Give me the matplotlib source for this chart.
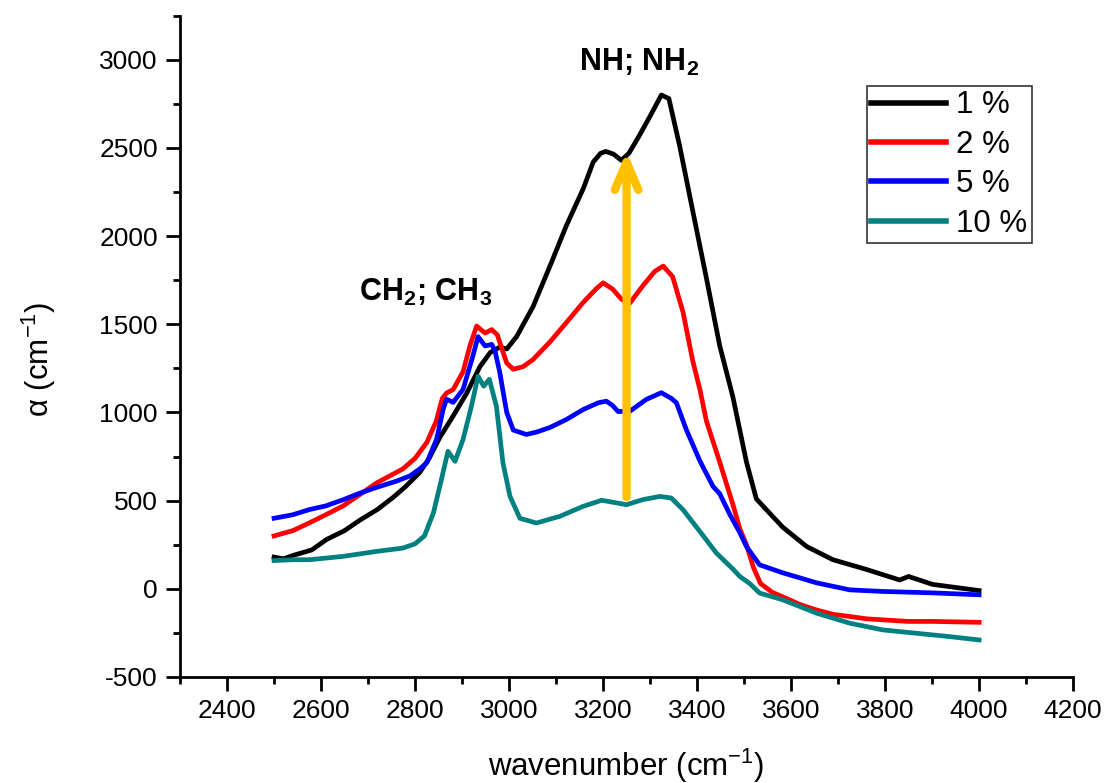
import matplotlib
matplotlib.use("Agg")
import matplotlib.pyplot as plt

plt.rcParams['font.family'] = ['Liberation Sans', 'DejaVu Sans']
plt.rcParams['mathtext.default'] = 'regular'
plt.rcParams['axes.unicode_minus'] = False

# ---- data ----
black_x = [2500, 2520, 2541, 2580, 2612, 2650, 2683, 2720, 2754, 2780, 2810, 2830, 2853, 2881, 2910,
           2938, 2960, 2980, 2995, 3016, 3051, 3087, 3122, 3158, 3179, 3195, 3206, 3222, 3239, 3255,
           3275, 3300, 3324, 3340, 3363, 3391, 3420, 3448, 3476, 3505, 3526, 3540, 3582, 3633, 3689,
           3760, 3831, 3850, 3901, 3986, 4000]
black_y = [180, 170, 190, 220, 280, 330, 390, 450, 520, 580, 660, 740, 860, 980, 1110,
           1260, 1340, 1370, 1360, 1430, 1600, 1830, 2060, 2270, 2420, 2470, 2480, 2465, 2430, 2470,
           2560, 2680, 2800, 2780, 2510, 2140, 1760, 1380, 1090, 720, 510, 470, 350, 240, 165,
           110, 50, 70, 25, -5, -10]

red_x = [2500, 2540, 2576, 2610, 2647, 2680, 2718, 2774, 2800, 2825, 2845, 2858, 2867, 2881, 2902,
         2917, 2931, 2949, 2963, 2975, 2985, 2995, 3009, 3030, 3051, 3087, 3122, 3158, 3185, 3200,
         3220, 3240, 3257, 3285, 3310, 3328, 3348, 3370, 3391, 3406, 3420, 3448, 3476, 3491, 3505,
         3520, 3535, 3560, 3582, 3620, 3654, 3690, 3725, 3760, 3795, 3850, 3901, 4000]
red_y = [300, 330, 375, 420, 470, 530, 600, 680, 740, 830, 950, 1080, 1110, 1130, 1230,
         1380, 1490, 1450, 1470, 1440, 1360, 1280, 1245, 1260, 1300, 1400, 1510, 1625, 1700, 1735,
         1700, 1640, 1620, 1720, 1800, 1830, 1770, 1570, 1290, 1130, 950, 720, 480, 340, 250,
         120, 30, -20, -45, -90, -120, -145, -157, -170, -176, -185, -185, -190]

blue_x = [2500, 2540, 2576, 2610, 2647, 2680, 2718, 2760, 2789, 2810, 2825, 2846, 2860, 2867, 2881,
          2902, 2923, 2934, 2949, 2963, 2970, 2980, 2995, 3009, 3037, 3060, 3087, 3122, 3158, 3190,
          3207, 3220, 3232, 3257, 3292, 3324, 3345, 3356, 3377, 3406, 3434, 3448, 3470, 3491, 3505,
          3533, 3582, 3654, 3725, 3795, 3901, 4000]
blue_y = [400, 420, 450, 470, 505, 540, 575, 610, 640, 680, 715, 850, 1020, 1075, 1057,
          1130, 1320, 1430, 1377, 1386, 1350, 1230, 1000, 900, 875, 890, 915, 960, 1017, 1055,
          1064, 1040, 1005, 1007, 1074, 1112, 1080, 1055, 903, 725, 580, 540, 420, 318, 240,
          136, 91, 34, -6, -15, -23, -34]

teal_x = [2500, 2540, 2576, 2647, 2718, 2774, 2800, 2820, 2839, 2856, 2870, 2885, 2902, 2920, 2934,
          2946, 2958, 2973, 2987, 3002, 3023, 3058, 3108, 3158, 3197, 3250, 3285, 3321, 3345, 3370,
          3406, 3441, 3477, 3491, 3512, 3533, 3582, 3654, 3725, 3795, 3866, 3937, 4000]
teal_y = [160, 165, 165, 184, 212, 231, 255, 300, 430, 619, 780, 723, 846, 1036, 1206,
          1149, 1188, 1036, 714, 524, 400, 373, 411, 468, 502, 477, 506, 524, 515, 449,
          325, 203, 110, 70, 30, -24, -62, -138, -195, -233, -252, -271, -290]

labels = ['1 %', '2 %', '5 %', '10 %']
colors = ['#000000', '#ff0000', '#0000ff', '#008080']

arrow_x = 3250
arrow_y0 = 520
arrow_y1 = 2480

xticks = list(range(2400, 4201, 200))
yticks = list(range(-500, 3001, 500))

# ---- figure ----
fig = plt.figure(figsize=(11.08, 7.83), dpi=100)
ax = fig.add_axes([0.1625, 0.1354, 0.806, 0.8446])

series = [(black_x, black_y), (red_x, red_y), (blue_x, blue_y), (teal_x, teal_y)]
for (xs, ys), lab, col in zip(series, labels, colors):
    ax.plot(xs, ys, color=col, lw=3.4, label=lab, solid_joinstyle='round')

ax.annotate('', xy=(arrow_x, arrow_y1), xytext=(arrow_x, arrow_y0),
            arrowprops=dict(arrowstyle='->,head_length=2.0,head_width=0.85',
                            color='#ffc000', lw=6, shrinkA=0, shrinkB=0,
                            capstyle='round'))

ax.set_xlim(2300, 4200)
ax.set_ylim(-500, 3250)
ax.set_xticks(xticks)
ax.set_yticks(yticks)
ax.set_xticks(list(range(2300, 4200, 100)), minor=True)
ax.set_yticks(list(range(-500, 3251, 250)), minor=True)

for s in ['top', 'right']:
    ax.spines[s].set_visible(False)
for s in ['left', 'bottom']:
    ax.spines[s].set_linewidth(2)

ax.tick_params(which='major', direction='out', length=10, width=2, labelsize=19, pad=6)
ax.tick_params(which='minor', direction='out', length=5, width=2)

ax.set_xlabel('wavenumber (cm$^{-1}$)', fontsize=22.5)
ax.set_ylabel('α (cm$^{-1}$)', fontsize=22.5)
ax.xaxis.set_label_coords(0.5, -0.105)
ax.yaxis.set_label_coords(-0.137, 0.48)

ax.text(2822, 1630, 'CH$_2$; CH$_3$', fontsize=22, fontweight='bold', ha='center', va='baseline')
ax.text(3276, 2935, 'NH; NH$_2$', fontsize=22, fontweight='bold', ha='center', va='baseline')

leg = ax.legend(loc='upper left', bbox_to_anchor=(0.769, 0.894), fontsize=22.5,
                frameon=True, fancybox=False, handlelength=2.4, handletextpad=0.3,
                labelspacing=0.3, borderpad=0.15, borderaxespad=0)
leg.get_frame().set_edgecolor('black')
leg.get_frame().set_linewidth(1.2)
for line in leg.get_lines():
    line.set_linewidth(4)

fig.savefig('out.png', dpi=100)
